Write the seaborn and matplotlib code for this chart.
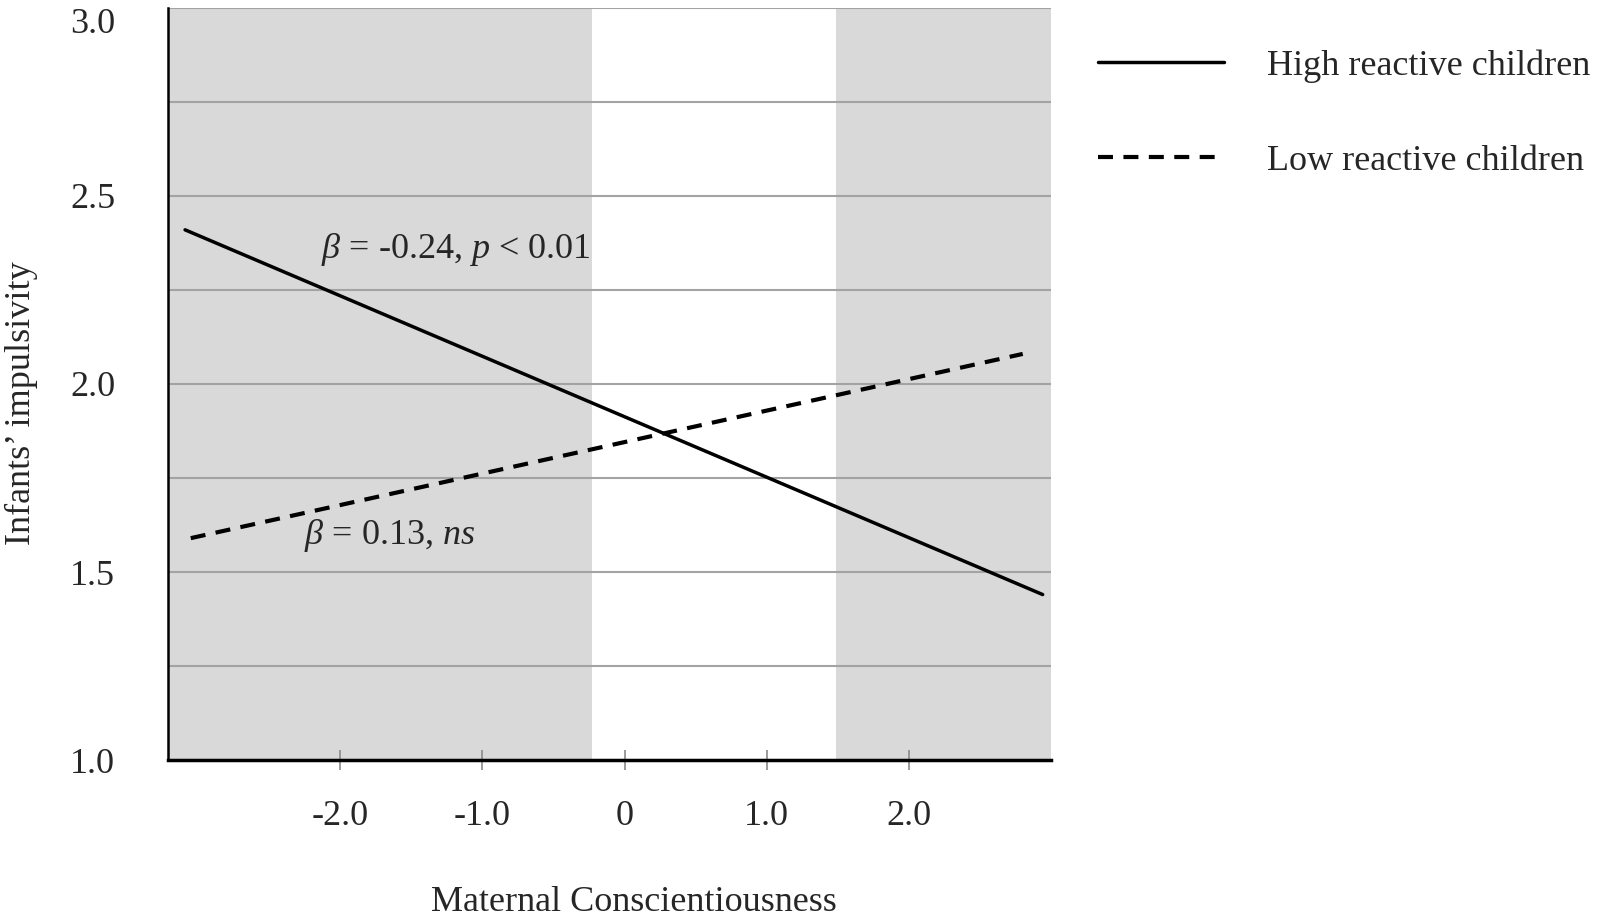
import numpy as np
import matplotlib
matplotlib.use("Agg")
import matplotlib.pyplot as plt
import seaborn as sns

# Simple slopes of maternal conscientiousness on infant impulsivity
cons_high = [-3.09, 2.94]
imp_high = [2.41, 1.44]
cons_low = [-3.05, 2.80]
imp_low = [1.59, 2.08]

series_labels = ["High reactive children", "Low reactive children"]
slope_labels = [r"$\mathit{\beta}$ = -0.24, $\mathit{p}$ < 0.01",
                r"$\mathit{\beta}$ = 0.13, $\mathit{ns}$"]

# regions of significance (shaded)
region_low = -0.23
region_high = 1.49

x_ticks = [-2.0, -1.0, 0.0, 1.0, 2.0]
x_ticklabels = ["-2.0", "-1.0", "0", "1.0", "2.0"]
y_ticks = [1.0, 1.5, 2.0, 2.5, 3.0]
y_ticklabels = ["1.0", "1.5", "2.0", "2.5", "3.0"]
y_grid = [1.0, 1.25, 1.5, 1.75, 2.0, 2.25, 2.5, 2.75, 3.0]

sns.set_style("white")
plt.rcParams["font.family"] = ["Liberation Serif", "DejaVu Serif"]
plt.rcParams["mathtext.fontset"] = "custom"
plt.rcParams["mathtext.rm"] = "Liberation Serif"
plt.rcParams["mathtext.it"] = "Liberation Serif:italic"

fs = 26
fig = plt.figure(figsize=(16, 9.17), dpi=100)
ax = fig.add_axes([0.105, 0.1712, 0.552, 0.8201])

xmin, xmax = -3.21, 3.0
ax.set_xlim(xmin, xmax)
ax.set_ylim(1.0, 3.0)

# shaded regions
ax.axvspan(xmin, region_low, color="#d9d9d9", lw=0, zorder=0.1)
ax.axvspan(region_high, xmax, color="#d9d9d9", lw=0, zorder=0.1)

# horizontal grid
ax.set_yticks(y_grid, minor=True)
ax.yaxis.grid(True, which="both", color="#a3a3a3", lw=1.5, zorder=0.3)
ax.xaxis.grid(False)
ax.set_axisbelow(True)

sns.lineplot(x=cons_high, y=imp_high, color="black", lw=2.5,
             label=series_labels[0], ax=ax, zorder=3)
sns.lineplot(x=cons_low, y=imp_low, color="black", lw=3.0,
             dashes=(3.6, 2.5), label=series_labels[1], ax=ax, zorder=3)

ax.text(-2.135, 2.357, slope_labels[0], fontsize=fs, ha="left", va="center")
ax.text(-2.257, 1.597, slope_labels[1], fontsize=fs, ha="left", va="center")

# axes styling
ax.set_xticks(x_ticks)
ax.set_xticklabels(x_ticklabels, fontsize=fs)
ax.set_yticks(y_ticks)
ax.set_yticklabels(y_ticklabels, fontsize=fs)
ax.tick_params(axis="x", bottom=True, direction="inout", length=14, width=1.2,
               color="#8a8a8a", pad=22)
ax.tick_params(axis="y", which="both", left=False, length=0, pad=38)
ax.get_yticklabels()[-1].set_va("top")

for s in ["top", "right"]:
    ax.spines[s].set_visible(False)
ax.spines["left"].set_color("black")
ax.spines["left"].set_linewidth(1.8)
ax.spines["bottom"].set_color("black")
ax.spines["bottom"].set_linewidth(2.5)

ax.set_xlabel("Maternal Conscientiousness", fontsize=fs)
ax.xaxis.set_label_coords(0.527, -0.168)
ax.set_ylabel("Infants\u2019 impulsivity", fontsize=fs)
ax.yaxis.set_label_coords(-0.147, 0.475)

handles, labels = ax.get_legend_handles_labels()
if ax.get_legend() is not None:
    ax.get_legend().remove()
fig.legend(handles, labels, loc="upper left", bbox_to_anchor=(0.686, 0.946),
           frameon=False, fontsize=fs, borderpad=0, borderaxespad=0,
           handlelength=3.5, handletextpad=1.2, labelspacing=1.7)

plt.savefig("out.png", dpi=100)
